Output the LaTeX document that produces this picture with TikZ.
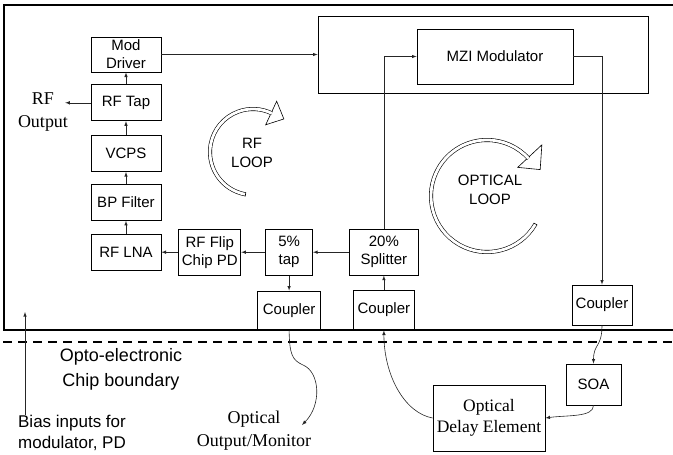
\documentclass[tikz,border=0pt]{standalone}
\usepackage{fontspec}
\setmainfont{Liberation Sans}
\newfontfamily\timesfont{Liberation Serif}
\usepackage{tikz}
\usetikzlibrary{arrows,positioning,calc}

\begin{document}
\begin{tikzpicture}[x=1pt, y=-1pt,
    block/.style={rectangle, draw=black, line width=0.8pt, align=center, inner sep=0pt, font=\fontsize{15}{18}\selectfont},
    arrow/.style={draw, line width=0.6pt, -latex, color=black!85},
    loopband/.style={draw, line width=0.6pt, double, double distance=2.8pt},
    loophead/.style={draw, line width=0.6pt, fill=white, line join=miter},
    label/.style={font=\fontsize{15}{19}\selectfont, align=center},
    serif/.style={font=\timesfont\fontsize{18}{22.5}\selectfont, align=center, inner sep=0pt},
    chip/.style={line width=1.6pt}
]
    \useasboundingbox (0,0) rectangle (673,455);

    % Chip boundary
    \draw[chip] (673,5) -| (4,330) -- (673,330);
    \draw[line width=1.2pt, dash pattern=on 9pt off 6pt] (3,342) -- (673,342);

    % Nodes (RF chain)
    \node[block, minimum width=70pt, minimum height=35pt] (moddrv) at (126,54.5) {Mod\\Driver};
    \node[block, minimum width=70pt, minimum height=36pt, below=12pt of moddrv] (rftap) {RF Tap};
    \node[block, minimum width=70pt, minimum height=36pt, below=14pt of rftap] (vcps) {VCPS};
    \node[block, minimum width=70pt, minimum height=36pt, below=12pt of vcps] (bpf) {BP Filter};
    \node[block, minimum width=70pt, minimum height=36pt, below=13pt of bpf] (lna) {RF LNA};
    \node[block, minimum width=62pt, minimum height=46pt, right=17pt of lna] (pd) {RF Flip\\Chip PD};
    \node[block, minimum width=47pt, minimum height=46pt, right=24pt of pd] (tap) {5\%\\tap};
    \node[block, minimum width=69pt, minimum height=46pt, right=36pt of tap] (split) {20\%\\Splitter};
    \node[block, minimum width=63pt, minimum height=39pt, below=15pt of tap] (cplout) {Coupler};
    \node[block, minimum width=61pt, minimum height=40pt, below=14pt of split] (cplin) {Coupler};

    % Nodes (optical path)
    \node[block, minimum width=330pt, minimum height=77pt] (modbox) at (483,54.5) {};
    \node[block, minimum width=156pt, minimum height=55pt] (mzi) at (495,56.5) {MZI Modulator};
    \node[block, minimum width=60pt, minimum height=40pt] (cplret) at (602,305) {Coupler};
    \node[block, minimum width=55pt, minimum height=41pt] (soa) at (593.5,384.5) {SOA};
    \node[block, serif, minimum width=112pt, minimum height=66pt, font=\timesfont\fontsize{17.5}{21}\selectfont] (delay) at (489,418) {Optical\\Delay Element};

    % Labels
    \node[serif] (rfout) at (43,112) {RF\\Output};
    \node[serif] (optout) at (254,430.5) {Optical\\Output/Monitor};
    \node[align=center, font=\fontsize{18}{25}\selectfont] (chipb) at (121,369.5) {Opto-electronic\\Chip boundary};
    \node[align=left, inner sep=0pt, font=\fontsize{17}{21}\selectfont] (bias) at (72,432.5) {Bias inputs for\\modulator, PD};
    \node[label] (rfloop) at (252,152.5) {RF\\LOOP};
    \node[label] (optloop) at (490,189.5) {OPTICAL\\LOOP};
    \coordinate (opttip) at (302,425);
    \coordinate (biastip) at (25,312);

    % Arrows
    \path[arrow] (moddrv.east) -- (moddrv.east -| modbox.west);
    \path[arrow] (rftap) -- (moddrv);
    \path[arrow] (vcps) -- (rftap);
    \path[arrow] (bpf) -- (vcps);
    \path[arrow] (lna) -- (bpf);
    \path[arrow] (rftap.west) -- ([xshift=-3pt]rfout.east |- rftap.west);
    \path[arrow] (pd) -- (lna);
    \path[arrow] (tap) -- (pd);
    \path[arrow] (split) -- (tap);
    \path[arrow] (tap) -- (cplout);
    \path[arrow] (cplin) -- (split);
    \path[arrow] (split.north) |- (mzi.west);
    \path[arrow] (mzi.east) -| (cplret.north);
    \path[arrow] (cplret.south) .. controls +(0,22) and +(0,-20) .. (soa.north);
    \path[arrow] (soa.south) .. controls +(0,12) and +(22,-3) .. (delay.east);
    \path[arrow] (delay.west) .. controls +(-28,-5) and +(0,45) .. (cplin.south);
    \path[arrow] (cplout.south) .. controls +(0.5,24) and +(-11,-5) .. (303,365)
        .. controls +(17,7) and +(20,-20) .. (opttip);
    \path[arrow] (biastip |- bias.north) -- (biastip);

    % Loops
    \coordinate (rfc) at (253,152);
    \coordinate (optc) at (487,196);
    \draw[loophead] ($(rfc)+(295:43)+(115:13)$) -- ($(rfc)+(295:43)+(25:14)$) -- ($(rfc)+(295:43)+(295:13)$) -- cycle;
    \draw[loopband] ($(rfc)+(100:43)$) arc[start angle=100, end angle=296, radius=43];
    \draw[line width=0.6pt] ($(rfc)+(100:41)$) -- ($(rfc)+(100:45)$);
    \draw[loophead] ($(optc)+(317:56)+(137:14)$) -- ($(optc)+(317:56)+(44:17)$) -- ($(optc)+(317:56)+(317:19)$) -- cycle;
    \draw[loopband] ($(optc)+(30:56)$) arc[start angle=30, end angle=318, radius=56];
    \draw[line width=0.6pt] ($(optc)+(30:54)$) -- ($(optc)+(30:58)$);
\end{tikzpicture}
\end{document}
